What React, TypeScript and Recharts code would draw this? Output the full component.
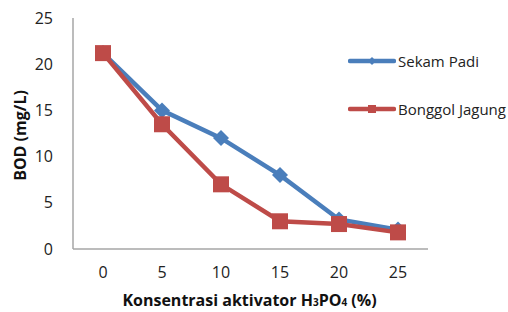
import React from "react";
import { LineChart, Line, XAxis, YAxis, Label } from "recharts";

const categories = ["0", "5", "10", "15", "20", "25"];
const sekamPadi = [21.2, 15, 12, 8, 3.2, 2.1];
const bonggolJagung = [21.2, 13.5, 7, 3, 2.7, 1.8];
const yTicks = [0, 5, 10, 15, 20, 25];

const data = categories.map((c, i) => ({
  x: c,
  sekam: sekamPadi[i],
  bonggol: bonggolJagung[i],
}));

const BLUE = "#4A7EBB";
const RED = "#BE4B48";
const FONT = "'Open Sans', sans-serif";

const Diamond = (props: any) => {
  const { cx, cy, index } = props;
  const r = 8;
  return (
    <polygon
      key={`d-${index}`}
      points={`${cx},${cy - r} ${cx + r},${cy} ${cx},${cy + r} ${cx - r},${cy}`}
      fill={BLUE}
    />
  );
};

const Square = (props: any) => {
  const { cx, cy, index } = props;
  const r = 8;
  return <rect key={`s-${index}`} x={cx - r} y={cy - r} width={2 * r} height={2 * r} fill={RED} />;
};

const LegendBox = () => (
  <div style={{ position: "absolute", left: 348, top: 51, fontFamily: FONT, fontSize: 15, color: "#222" }}>
    <div style={{ display: "flex", alignItems: "center", height: 20 }}>
      <svg width={48} height={12}>
        <line x1={2} y1={6} x2={46} y2={6} stroke={BLUE} strokeWidth={4.5} strokeLinecap="round" />
        <polygon points="24,2 28,6 24,10 20,6" fill={BLUE} />
      </svg>
      <span style={{ marginLeft: 2 }}>Sekam Padi</span>
    </div>
    <div style={{ display: "flex", alignItems: "center", height: 20, marginTop: 28 }}>
      <svg width={48} height={12}>
        <line x1={2} y1={6} x2={46} y2={6} stroke={RED} strokeWidth={4.5} strokeLinecap="round" />
        <rect x={20} y={2} width={8} height={8} fill={RED} />
      </svg>
      <span style={{ marginLeft: 2 }}>Bonggol Jagung</span>
    </div>
  </div>
);

const XTitle = (props: any) => {
  const { viewBox } = props;
  const cx = viewBox.x + viewBox.width / 2 - 1;
  const y = 306;
  return (
    <text x={cx} y={y} textAnchor="middle" fontFamily={FONT} fontSize={16} fontWeight="bold" fill="#111">
      Konsentrasi aktivator H
      <tspan fontSize={10}>3</tspan>
      <tspan>PO</tspan>
      <tspan fontSize={10}>4</tspan>
      <tspan> (%)</tspan>
    </text>
  );
};

export default function App() {
  return (
    <div style={{ position: "absolute", left: 0, top: 0, width: 508, height: 312, background: "#fff" }}>
      <LineChart
        width={508}
        height={312}
        data={data}
        margin={{ top: 18, right: 80, left: 0, bottom: 0 }}
      >
        <XAxis
          dataKey="x"
          height={63}
          padding={{ left: 30, right: 30 }}
          axisLine={{ stroke: "#a6a6a6", strokeWidth: 1.5 }}
          tickLine={false}
          tickSize={0}
          tickMargin={18}
          tick={{ fontFamily: FONT, fontSize: 16, fill: "#222" }}
          interval={0}
        >
          <Label content={<XTitle />} />
        </XAxis>
        <YAxis
          domain={[0, 25]}
          ticks={yTicks}
          width={73}
          axisLine={{ stroke: "#a6a6a6", strokeWidth: 1.5 }}
          tickLine={false}
          tickSize={0}
          tickMargin={20}
          tick={{ fontFamily: FONT, fontSize: 16, fill: "#222" }}
        >
          <Label
            value="BOD (mg/L)"
            angle={-90}
            position="insideLeft"
            offset={20}
            dy={2}
            style={{ fontFamily: FONT, fontSize: 16, fontWeight: "bold", fill: "#111", textAnchor: "middle" }}
          />
        </YAxis>
        <Line
          type="linear"
          dataKey="sekam"
          name="Sekam Padi"
          stroke={BLUE}
          strokeWidth={4.5}
          dot={<Diamond />}
          activeDot={false}
          isAnimationActive={false}
        />
        <Line
          type="linear"
          dataKey="bonggol"
          name="Bonggol Jagung"
          stroke={RED}
          strokeWidth={4.5}
          dot={<Square />}
          activeDot={false}
          isAnimationActive={false}
        />
      </LineChart>
      <LegendBox />
    </div>
  );
}
